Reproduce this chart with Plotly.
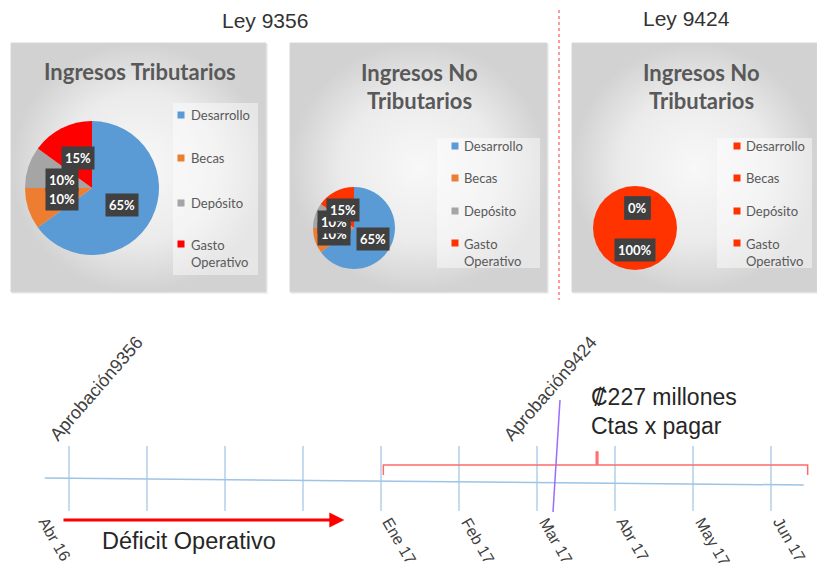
import plotly.graph_objects as go

W, H = 817, 569

# ---------------- data ----------------
categories = ["Desarrollo", "Becas", "Depósito", "Gasto Operativo"]
legend_labels = ["Desarrollo", "Becas", "Depósito", "Gasto<br>Operativo"]
trib_9356 = [65, 10, 10, 15]
no_trib_9356 = [65, 10, 10, 15]
no_trib_9424 = [0, 0, 0, 100]

colors_trib = ["#5B9BD5", "#ED7D31", "#A5A5A5", "#FF0000"]
colors_notrib = ["#5B9BD5", "#ED7D31", "#A5A5A5", "#FF3300"]
colors_9424 = ["#FF3300", "#FF3300", "#FF3300", "#FF3300"]

tick_index = list(range(10))
tick_labels = ["Abr 16", "", "", "", "Ene 17", "Feb 17", "Mar 17", "Abr 17", "May 17", "Jun 17"]
approvals = [("Aprobación9356", 0), ("Aprobación9424", 6.25)]

fig = go.Figure()


def pdx(px):
    return px / W


def pdy(py):
    return 1 - py / H


# ---------------- panels (gradient backgrounds) ----------------
panels = [(11, 43, 266, 292), (290, 43, 547, 292), (572, 43, 817, 292)]
for (x0, y0, x1, y1) in panels:
    fig.add_shape(type="rect", xref="x2", yref="y", x0=x0 + 1, y0=y0 + 1, x1=x1 + 2, y1=y1 + 2,
                  line=dict(width=0), fillcolor="rgba(0,0,0,0.06)", layer="below")
    fig.add_trace(go.Scatter(
        x=[x0, x1, x1, x0, x0], y=[y0, y0, y1, y1, y0], xaxis="x2", yaxis="y",
        mode="lines", line=dict(color="#D6D6D6", width=1), fill="toself",
        fillgradient=dict(type="radial", colorscale=[[0, "#F8F8F8"], [0.6, "#EBEBEB"], [1, "#D2D2D2"]]),
        hoverinfo="skip", showlegend=False))

# ---------------- pies ----------------
pies = [
    dict(values=trib_9356, colors=colors_trib, cx=92, cy=188, r=67,
         offsets=[(30, 17), (-30, 11), (-30, -8), (-14, -30)]),
    dict(values=no_trib_9356, colors=colors_notrib, cx=354, cy=228, r=41,
         offsets=[(19, 11), (-20, 6), (-20, -6), (-11, -18)]),
    dict(values=no_trib_9424, colors=colors_9424, cx=635, cy=228, r=42,
         offsets=[(2, -20), (2, -20), (2, -20), (0, 22)]),
]
for p in pies:
    fig.add_trace(go.Pie(
        labels=categories, values=p["values"], sort=False, direction="clockwise", rotation=0,
        marker=dict(colors=p["colors"], line=dict(width=0)), textinfo="none", hoverinfo="label+percent",
        showlegend=False,
        domain=dict(x=[pdx(p["cx"] - p["r"]), pdx(p["cx"] + p["r"])],
                    y=[pdy(p["cy"] + p["r"]), pdy(p["cy"] - p["r"])])))

annotations = []
for p in pies:
    for i in range(len(categories)):
        dx, dy = p["offsets"][i]
        annotations.append(dict(
            x=p["cx"] + dx, y=p["cy"] + dy, xref="x2", yref="y", text=f"{p['values'][i]}%",
            showarrow=False, bgcolor="#404040", borderpad=3,
            font=dict(family="Lato, Open Sans, sans-serif", size=13, color="white", weight="bold")))

# ---------------- titles ----------------
title_font = dict(family="Lato, Open Sans, sans-serif", size=22, color="#595959", weight="bold")
annotations.append(dict(x=140, y=71, xref="x2", yref="y", text="Ingresos Tributarios",
                        showarrow=False, font=title_font))
for cx in (419, 701):
    annotations.append(dict(x=cx, y=72, xref="x2", yref="y", text="Ingresos No",
                            showarrow=False, font=title_font))
    annotations.append(dict(x=cx, y=100, xref="x2", yref="y", text="Tributarios",
                            showarrow=False, font=title_font))

# ---------------- manual legends ----------------
legends = [
    dict(box=(173, 103, 258, 275), mx=181, tx=189, ys=[115, 158, 203, 253], colors=colors_trib),
    dict(box=(437, 138, 540, 268), mx=455, tx=462, ys=[146, 178, 211, 252], colors=colors_notrib),
    dict(box=(717, 138, 812, 268), mx=737, tx=744, ys=[146, 178, 211, 252], colors=colors_9424),
]
leg_font = dict(family="Lato, Open Sans, sans-serif", size=13, color="#595959")
for lg in legends:
    x0, y0, x1, y1 = lg["box"]
    fig.add_shape(type="rect", xref="x2", yref="y", x0=x0, y0=y0, x1=x1, y1=y1,
                  line=dict(width=0), fillcolor="rgba(255,255,255,0.45)", layer="above")
    for lab, col, yy in zip(legend_labels, lg["colors"], lg["ys"]):
        top = yy - 9 if "<br>" in lab else yy
        fig.add_shape(type="rect", xref="x2", yref="y", x0=lg["mx"] - 3.5, x1=lg["mx"] + 3.5,
                      y0=top - 3.5, y1=top + 3.5, line=dict(width=0), fillcolor=col, layer="above")
        annotations.append(dict(x=lg["tx"], y=yy, xref="x2", yref="y", text=lab, showarrow=False,
                                xanchor="left", yanchor="middle", align="left", font=leg_font))

# ---------------- headings & divider ----------------
head_font = dict(family="Liberation Sans, Arial, sans-serif", size=21, color="#333333")
annotations.append(dict(x=265, y=20, xref="x2", yref="y", text="Ley 9356", showarrow=False, font=head_font))
annotations.append(dict(x=686, y=18, xref="x2", yref="y", text="Ley 9424", showarrow=False, font=head_font))
fig.add_shape(type="line", xref="x2", yref="y", x0=559, x1=559, y0=10, y1=300,
              line=dict(color="#FF7A7A", width=1.5, dash="dot"))

# ---------------- timeline ----------------
tick_x, tick_y = [], []
for i in tick_index:
    tick_x += [i, i, None]
    tick_y += [446, 511, None]
fig.add_trace(go.Scatter(x=tick_x, y=tick_y, mode="lines", line=dict(color="#9DC3E6", width=1.2),
                         hoverinfo="skip", showlegend=False))
fig.add_trace(go.Scatter(x=[tick_index[0] - 0.31, tick_index[-1] + 0.42], y=[478, 485], mode="lines",
                         line=dict(color="#9DC3E6", width=1.5), hoverinfo="skip", showlegend=False))

br_x = [4.03, 4.03, 6.76, 6.76, 6.78, 6.78, 9.47, 9.47]
br_y = [475, 465, 465, 452, 452, 465, 465, 475]
fig.add_trace(go.Scatter(x=br_x, y=br_y, mode="lines", line=dict(color="#FF6B6B", width=1.5),
                         hoverinfo="skip", showlegend=False))
fig.add_trace(go.Scatter(x=[6.295, 6.205], y=[400, 512], mode="lines",
                         line=dict(color="#9B6BFF", width=1.5), hoverinfo="skip", showlegend=False))

lab_font = dict(family="Liberation Sans, Arial, sans-serif", size=16, color="#404040")
for i, lab in zip(tick_index, tick_labels):
    if not lab:
        continue
    shift = -36 if i == 0 else -4
    annotations.append(dict(x=i, y=512, xref="x", yref="y", text=lab, showarrow=False,
                            textangle=60, xanchor="left", yanchor="top", xshift=shift, font=lab_font))

appr_font = dict(family="Liberation Sans, Arial, sans-serif", size=18, color="#404040")
appr_pos = [(96, 389), (550, 389)]
for (txt, _), (px, py) in zip(approvals, appr_pos):
    annotations.append(dict(x=px, y=py, xref="x2", yref="y", text=txt, showarrow=False,
                            textangle=-49, font=appr_font))

annotations.append(dict(x=3.53, y=520, ax=-0.09, ay=520, xref="x", yref="y", axref="x", ayref="y",
                        text="", showarrow=True, arrowhead=2, arrowsize=1, arrowwidth=3,
                        arrowcolor="#FF0000"))
annotations.append(dict(x=189, y=541, xref="x2", yref="y", text="Déficit Operativo", showarrow=False,
                        font=dict(family="Liberation Sans, Arial, sans-serif", size=23.5, color="#262626")))
big_font = dict(family="Liberation Sans, Arial, DejaVu Sans, sans-serif", size=23, color="#262626")
annotations.append(dict(x=589, y=397, xref="x2", yref="y", text="₡227 millones", showarrow=False,
                        xanchor="left", font=big_font))
annotations.append(dict(x=589, y=426, xref="x2", yref="y", text="Ctas x pagar", showarrow=False,
                        xanchor="left", font=big_font))

fig.update_layout(
    width=W, height=H, margin=dict(l=0, r=0, t=0, b=0),
    paper_bgcolor="white", plot_bgcolor="white", showlegend=False,
    xaxis=dict(domain=[0, 1], range=[-69 / 78, (W - 69) / 78], visible=False, fixedrange=True),
    xaxis2=dict(domain=[0, 1], range=[0, W], overlaying="x", anchor="y", visible=False, fixedrange=True),
    yaxis=dict(domain=[0, 1], range=[H, 0], visible=False, fixedrange=True),
    annotations=annotations,
)

fig.write_html("out.html", config={"displayModeBar": False},
               post_script="document.body.style.margin='0px';document.body.style.overflow='hidden';")
